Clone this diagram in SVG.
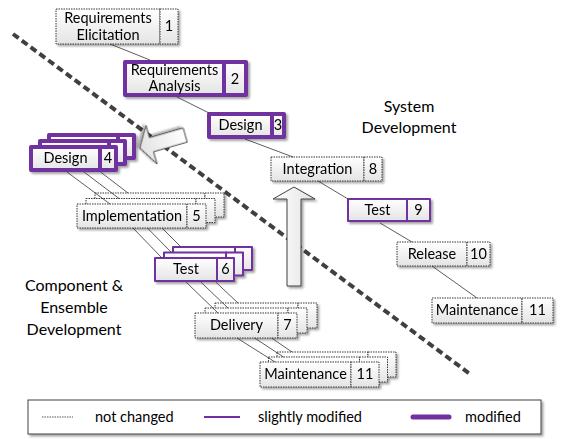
<svg xmlns="http://www.w3.org/2000/svg" width="562" height="439" viewBox="0 0 562 439">
  <defs>
    <linearGradient id="boxFill" x1="0" y1="0" x2="0" y2="1">
      <stop offset="0" stop-color="#ffffff"/>
      <stop offset="1" stop-color="#e4e4e4"/>
    </linearGradient>
    <linearGradient id="arrowFill" x1="0" y1="0" x2="1" y2="0">
      <stop offset="0" stop-color="#ffffff"/>
      <stop offset="1" stop-color="#e2e2e2"/>
    </linearGradient>
    <filter id="shadow" x="-20%" y="-20%" width="140%" height="160%">
      <feDropShadow dx="2" dy="2" stdDeviation="1.2" flood-color="#000000" flood-opacity="0.35"/>
    </filter>
  </defs>
  <style>
    .box { fill: url(#boxFill); }
    .plain { stroke: #3a3a3a; stroke-width: 1; stroke-dasharray: 1.5 1; }
    .slight { stroke: #7030a0; stroke-width: 2; stroke-linejoin: round; }
    .mod { stroke: #7030a0; stroke-width: 4; stroke-linejoin: round; }
    .lbl { font-family: Lato, "Liberation Sans", sans-serif; font-size: 14.5px; fill: #000000; text-anchor: middle; }
    .big { font-family: Lato, "Liberation Sans", sans-serif; font-size: 16px; fill: #000000; text-anchor: middle; }
    .conn line { stroke: #333333; stroke-width: 0.8; }
    .arrow { fill: url(#arrowFill); stroke: #404040; stroke-width: 1; stroke-linejoin: miter; filter: url(#shadow); }
    .sep { fill: none; stroke: #404040; stroke-width: 4; stroke-dasharray: 7 4; }
  </style>

  <!-- boundary between the two development processes -->
  <line class="sep" x1="13" y1="34" x2="470" y2="374"/>

  <!-- side texts -->
  <g id="label-system">
    <text class="big" x="409" y="112">System</text>
    <text class="big" x="409" y="133">Development</text>
  </g>
  <g id="label-component">
    <text class="big" x="74" y="291">Component &amp;</text>
    <text class="big" x="74" y="313">Ensemble</text>
    <text class="big" x="74" y="335">Development</text>
  </g>

  <!-- block arrows -->
  <g id="arrow-to-component">
    <polygon class="arrow" transform="translate(140 148) rotate(164)" points="0,0 -12,-20 -12,-7.3 -47,-7.3 -47,7.3 -12,7.3 -12,20"/>
  </g>
  <g id="arrow-to-integration">
    <polygon class="arrow" points="294,187 315,199 301,199 301,286 287,286 287,199 273,199"/>
  </g>

  <!-- system process chain -->
  <g id="n1" filter="url(#shadow)">
    <rect class="box plain" x="56" y="9" width="104" height="35"/>
    <rect class="box plain" x="160" y="9" width="18" height="35"/>
    <text class="lbl" x="108" y="23">Requirements</text>
    <text class="lbl" x="108" y="40">Elicitation</text>
    <text class="lbl" x="169" y="31">1</text>
  </g>
  <g id="n2" filter="url(#shadow)">
    <rect class="box mod" x="125" y="62" width="99" height="33"/>
    <rect class="box mod" x="224" y="62" width="22" height="33"/>
    <text class="lbl" x="174.5" y="75">Requirements</text>
    <text class="lbl" x="174.5" y="91">Analysis</text>
    <text class="lbl" x="235" y="84">2</text>
  </g>
  <g id="n3" filter="url(#shadow)">
    <rect class="box mod" x="209" y="114" width="63" height="23"/>
    <rect class="box mod" x="272" y="114" width="12" height="23"/>
    <text class="lbl" x="240.5" y="130">Design</text>
    <text class="lbl" x="278" y="130">3</text>
  </g>
  <g id="n8" filter="url(#shadow)">
    <rect class="box plain" x="271" y="157" width="93" height="24"/>
    <rect class="box plain" x="364" y="157" width="18" height="24"/>
    <text class="lbl" x="317.5" y="174">Integration</text>
    <text class="lbl" x="373" y="174">8</text>
  </g>
  <g id="n9" filter="url(#shadow)">
    <rect class="box slight" x="348" y="199" width="59" height="22"/>
    <rect class="box slight" x="407" y="199" width="23" height="22"/>
    <text class="lbl" x="377.5" y="215">Test</text>
    <text class="lbl" x="418.5" y="215">9</text>
  </g>
  <g id="n10" filter="url(#shadow)">
    <rect class="box plain" x="397" y="242" width="70" height="24"/>
    <rect class="box plain" x="467" y="242" width="23" height="24"/>
    <text class="lbl" x="432" y="259">Release</text>
    <text class="lbl" x="478.5" y="259">10</text>
  </g>
  <g id="n11" filter="url(#shadow)">
    <rect class="box plain" x="432" y="298" width="90" height="25"/>
    <rect class="box plain" x="522" y="298" width="31" height="25"/>
    <text class="lbl" x="477" y="315">Maintenance</text>
    <text class="lbl" x="537.5" y="315">11</text>
  </g>

  <!-- component / ensemble chain: three stacked copies each -->
  <g id="n4" filter="url(#shadow)">
    <rect class="box mod" x="49" y="135" width="69" height="23"/>
    <rect class="box mod" x="118" y="135" width="16" height="23"/>
    <rect class="box mod" x="40" y="141" width="69" height="23"/>
    <rect class="box mod" x="109" y="141" width="16" height="23"/>
    <rect class="box mod" x="31" y="147" width="69" height="23"/>
    <rect class="box mod" x="100" y="147" width="16" height="23"/>
    <text class="lbl" x="65.5" y="163">Design</text>
    <text class="lbl" x="108" y="163">4</text>
  </g>
  <g id="n5" filter="url(#shadow)">
    <rect class="box plain" x="95" y="193" width="110" height="24"/>
    <rect class="box plain" x="205" y="193" width="19" height="24"/>
    <rect class="box plain" x="86" y="198.5" width="110" height="24"/>
    <rect class="box plain" x="196" y="198.5" width="19" height="24"/>
    <rect class="box plain" x="77" y="204" width="110" height="24"/>
    <rect class="box plain" x="187" y="204" width="19" height="24"/>
    <text class="lbl" x="132" y="221">Implementation</text>
    <text class="lbl" x="196.5" y="221">5</text>
  </g>
  <g id="n6" filter="url(#shadow)">
    <rect class="box slight" x="173" y="247" width="62" height="23"/>
    <rect class="box slight" x="235" y="247" width="17" height="23"/>
    <rect class="box slight" x="164" y="252.5" width="62" height="23"/>
    <rect class="box slight" x="226" y="252.5" width="17" height="23"/>
    <rect class="box slight" x="155" y="258" width="62" height="23"/>
    <rect class="box slight" x="217" y="258" width="17" height="23"/>
    <text class="lbl" x="186" y="274">Test</text>
    <text class="lbl" x="225.5" y="274">6</text>
  </g>
  <g id="n7" filter="url(#shadow)">
    <rect class="box plain" x="215" y="303" width="83" height="25"/>
    <rect class="box plain" x="298" y="303" width="19" height="25"/>
    <rect class="box plain" x="205" y="308" width="83" height="25"/>
    <rect class="box plain" x="288" y="308" width="19" height="25"/>
    <rect class="box plain" x="195" y="313" width="83" height="25"/>
    <rect class="box plain" x="278" y="313" width="19" height="25"/>
    <text class="lbl" x="236.5" y="330">Delivery</text>
    <text class="lbl" x="287.5" y="330">7</text>
  </g>
  <g id="n11c" filter="url(#shadow)">
    <rect class="box plain" x="277" y="352" width="91" height="25"/>
    <rect class="box plain" x="368" y="352" width="28" height="25"/>
    <rect class="box plain" x="268.5" y="357" width="91" height="25"/>
    <rect class="box plain" x="359.5" y="357" width="28" height="25"/>
    <rect class="box plain" x="260" y="362" width="91" height="25"/>
    <rect class="box plain" x="351" y="362" width="28" height="25"/>
    <text class="lbl" x="305.5" y="379">Maintenance</text>
    <text class="lbl" x="365" y="379">11</text>
  </g>

  <!-- connectors -->
  <g id="connectors" class="conn">
    <line x1="110" y1="44" x2="150" y2="60"/>
    <line x1="177" y1="97" x2="209" y2="113"/>
    <line x1="245" y1="139" x2="293" y2="157"/>
    <line x1="318" y1="181" x2="348" y2="199"/>
    <line x1="380" y1="223" x2="412" y2="242"/>
    <line x1="432" y1="266" x2="477" y2="298"/>

    <line x1="67" y1="172" x2="110" y2="204"/>
    <line x1="84" y1="172" x2="119" y2="198.5"/>
    <line x1="100.6" y1="172" x2="128" y2="193"/>

    <line x1="133" y1="228" x2="162" y2="258"/>
    <line x1="147.4" y1="228" x2="171.5" y2="252.5"/>
    <line x1="162" y1="228" x2="181" y2="247"/>

    <line x1="186" y1="282" x2="218" y2="313"/>
    <line x1="200.8" y1="282" x2="228" y2="308"/>
    <line x1="215.7" y1="282" x2="238" y2="303"/>

    <line x1="237" y1="338" x2="275" y2="362"/>
    <line x1="254.6" y1="338" x2="283.5" y2="357"/>
    <line x1="271.6" y1="338" x2="292" y2="352"/>
  </g>

  <!-- legend -->
  <g id="legend">
    <rect x="28" y="400" width="513" height="34" fill="#ffffff" stroke="#404040" stroke-width="1" filter="url(#shadow)"/>
    <line x1="42" y1="417" x2="73" y2="417" stroke="#555555" stroke-width="1" stroke-dasharray="1.5 1"/>
    <text class="lbl" x="95" y="422" style="text-anchor:start">not changed</text>
    <line x1="204" y1="417" x2="240" y2="417" stroke="#7030a0" stroke-width="2"/>
    <text class="lbl" x="258" y="422" style="text-anchor:start">slightly modified</text>
    <line x1="413" y1="417" x2="449" y2="417" stroke="#7030a0" stroke-width="5" stroke-linecap="round"/>
    <text class="lbl" x="465" y="422" style="text-anchor:start">modified</text>
  </g>
</svg>
